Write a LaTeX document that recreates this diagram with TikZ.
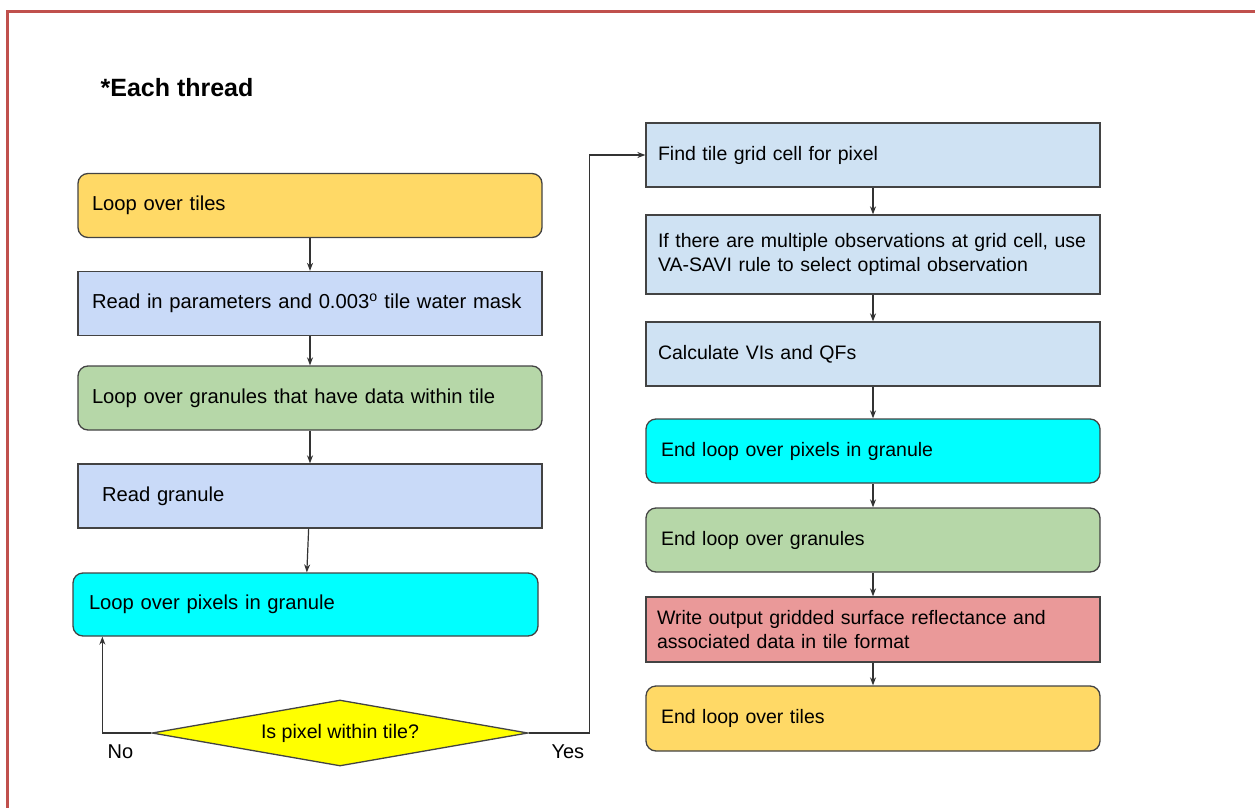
\documentclass[tikz,border=0pt]{standalone}
\usepackage{fontspec}
\setmainfont{Liberation Sans}
\usetikzlibrary{arrows.meta,shapes.geometric}
\definecolor{framered}{HTML}{C0504D}
\definecolor{boxline}{HTML}{434343}
\definecolor{arrowgray}{HTML}{333333}
\definecolor{tileyellow}{HTML}{FFD966}
\definecolor{paramblue}{HTML}{C9DAF8}
\definecolor{cellblue}{HTML}{CFE2F3}
\definecolor{granulegreen}{HTML}{B6D7A8}
\definecolor{pixelcyan}{HTML}{00FFFF}
\definecolor{writered}{HTML}{EA9999}
\definecolor{testyellow}{HTML}{FFFF00}

\begin{document}
\begin{tikzpicture}[x=1pt,y=-1pt,line width=1.2pt,>={Stealth[length=8pt,width=6pt]},
  box/.style={draw=boxline,line width=1.3pt,inner ysep=0pt,align=left,
    font=\fontsize{20.2}{24}\selectfont},
  lbox/.style={box,minimum height=64pt,inner xsep=14pt,text width=436pt},
  rbox/.style={box,minimum height=64pt,inner xsep=12pt,text width=430pt,
    font=\fontsize{19.5}{24}\selectfont},
  loopbox/.style={rounded corners=10pt},
  decision/.style={diamond,draw=boxline,line width=1.3pt,fill=testyellow,
    minimum width=376pt,minimum height=66pt,shape aspect=5.7,inner sep=0pt,
    font=\fontsize{19.6}{24}\selectfont},
  flow/.style={->,draw=arrowgray}]
\useasboundingbox (0,0) rectangle (1255,808);
% ---------- frame and title ----------
\draw[framered,line width=3pt] (7.5,11.5) rectangle (1290,840);
\node[anchor=west,inner sep=0pt,font=\fontsize{25}{29}\selectfont\bfseries] (title) at (100,88) {*Each thread};
% ---------- left column ----------
\node[lbox,loopbox,fill=tileyellow] (tiles) at (310,205.5) {Loop over tiles};
\node[lbox,fill=paramblue] (params) at (310,303.5) {\mbox{Read in parameters and 0.003\textsuperscript{o} tile water mask}};
\node[lbox,loopbox,fill=granulegreen] (granules) at (310,398) {Loop over granules that have data within tile};
\node[lbox,fill=paramblue,inner xsep=24pt,text width=416pt] (readgran) at (310,496) {Read granule};
\node[lbox,loopbox,fill=pixelcyan,inner xsep=16pt,text width=433pt,minimum height=63pt] (pixels) at (305.5,604.5) {Loop over pixels in granule};
\node[decision] (test) at (340,733) {Is pixel within tile?};
\node[anchor=west,inner sep=0pt,font=\fontsize{20}{24}\selectfont] (nolabel) at (107,752) {No};
\node[anchor=west,inner sep=0pt,font=\fontsize{20}{24}\selectfont] (yeslabel) at (551,752) {Yes};
% ---------- right column ----------
\node[rbox,fill=cellblue] (findcell) at (873,155) {Find tile grid cell for pixel};
\node[rbox,fill=cellblue,minimum height=79pt] (select) at (873,254.5) {\mbox{If there are multiple observations at grid cell, use}\\VA-SAVI rule to select optimal observation};
\node[rbox,fill=cellblue] (calc) at (873,354) {Calculate VIs and QFs};
\node[rbox,loopbox,fill=pixelcyan,inner xsep=15pt,text width=424pt] (endpixels) at (873,451) {End loop over pixels in granule};
\node[rbox,loopbox,fill=granulegreen,inner xsep=15pt,text width=424pt] (endgranules) at (873,540) {End loop over granules};
\node[rbox,fill=writered,inner xsep=11pt,text width=432pt,minimum height=65pt] (writeout) at (873,629.5) {Write output gridded surface reflectance and\\associated data in tile format};
\node[rbox,loopbox,fill=tileyellow,inner xsep=15pt,text width=424pt,minimum height=65pt] (endtiles) at (873,718.5) {End loop over tiles};
% ---------- connectors ----------
\draw[flow] (tiles) -- (params);
\draw[flow] (params) -- (granules);
\draw[flow] (granules) -- (readgran);
\draw[flow] (readgran) -- (pixels);
\draw[flow] (test.west) -| ([xshift=30pt]pixels.south west);
\draw[flow] (test.east) -- ++(61,0) |- (findcell.west);
\draw[flow] (findcell) -- (select);
\draw[flow] (select) -- (calc);
\draw[flow] (calc) -- (endpixels);
\draw[flow] (endpixels) -- (endgranules);
\draw[flow] (endgranules) -- (writeout);
\draw[flow] (writeout) -- (endtiles);
\end{tikzpicture}
\end{document}
